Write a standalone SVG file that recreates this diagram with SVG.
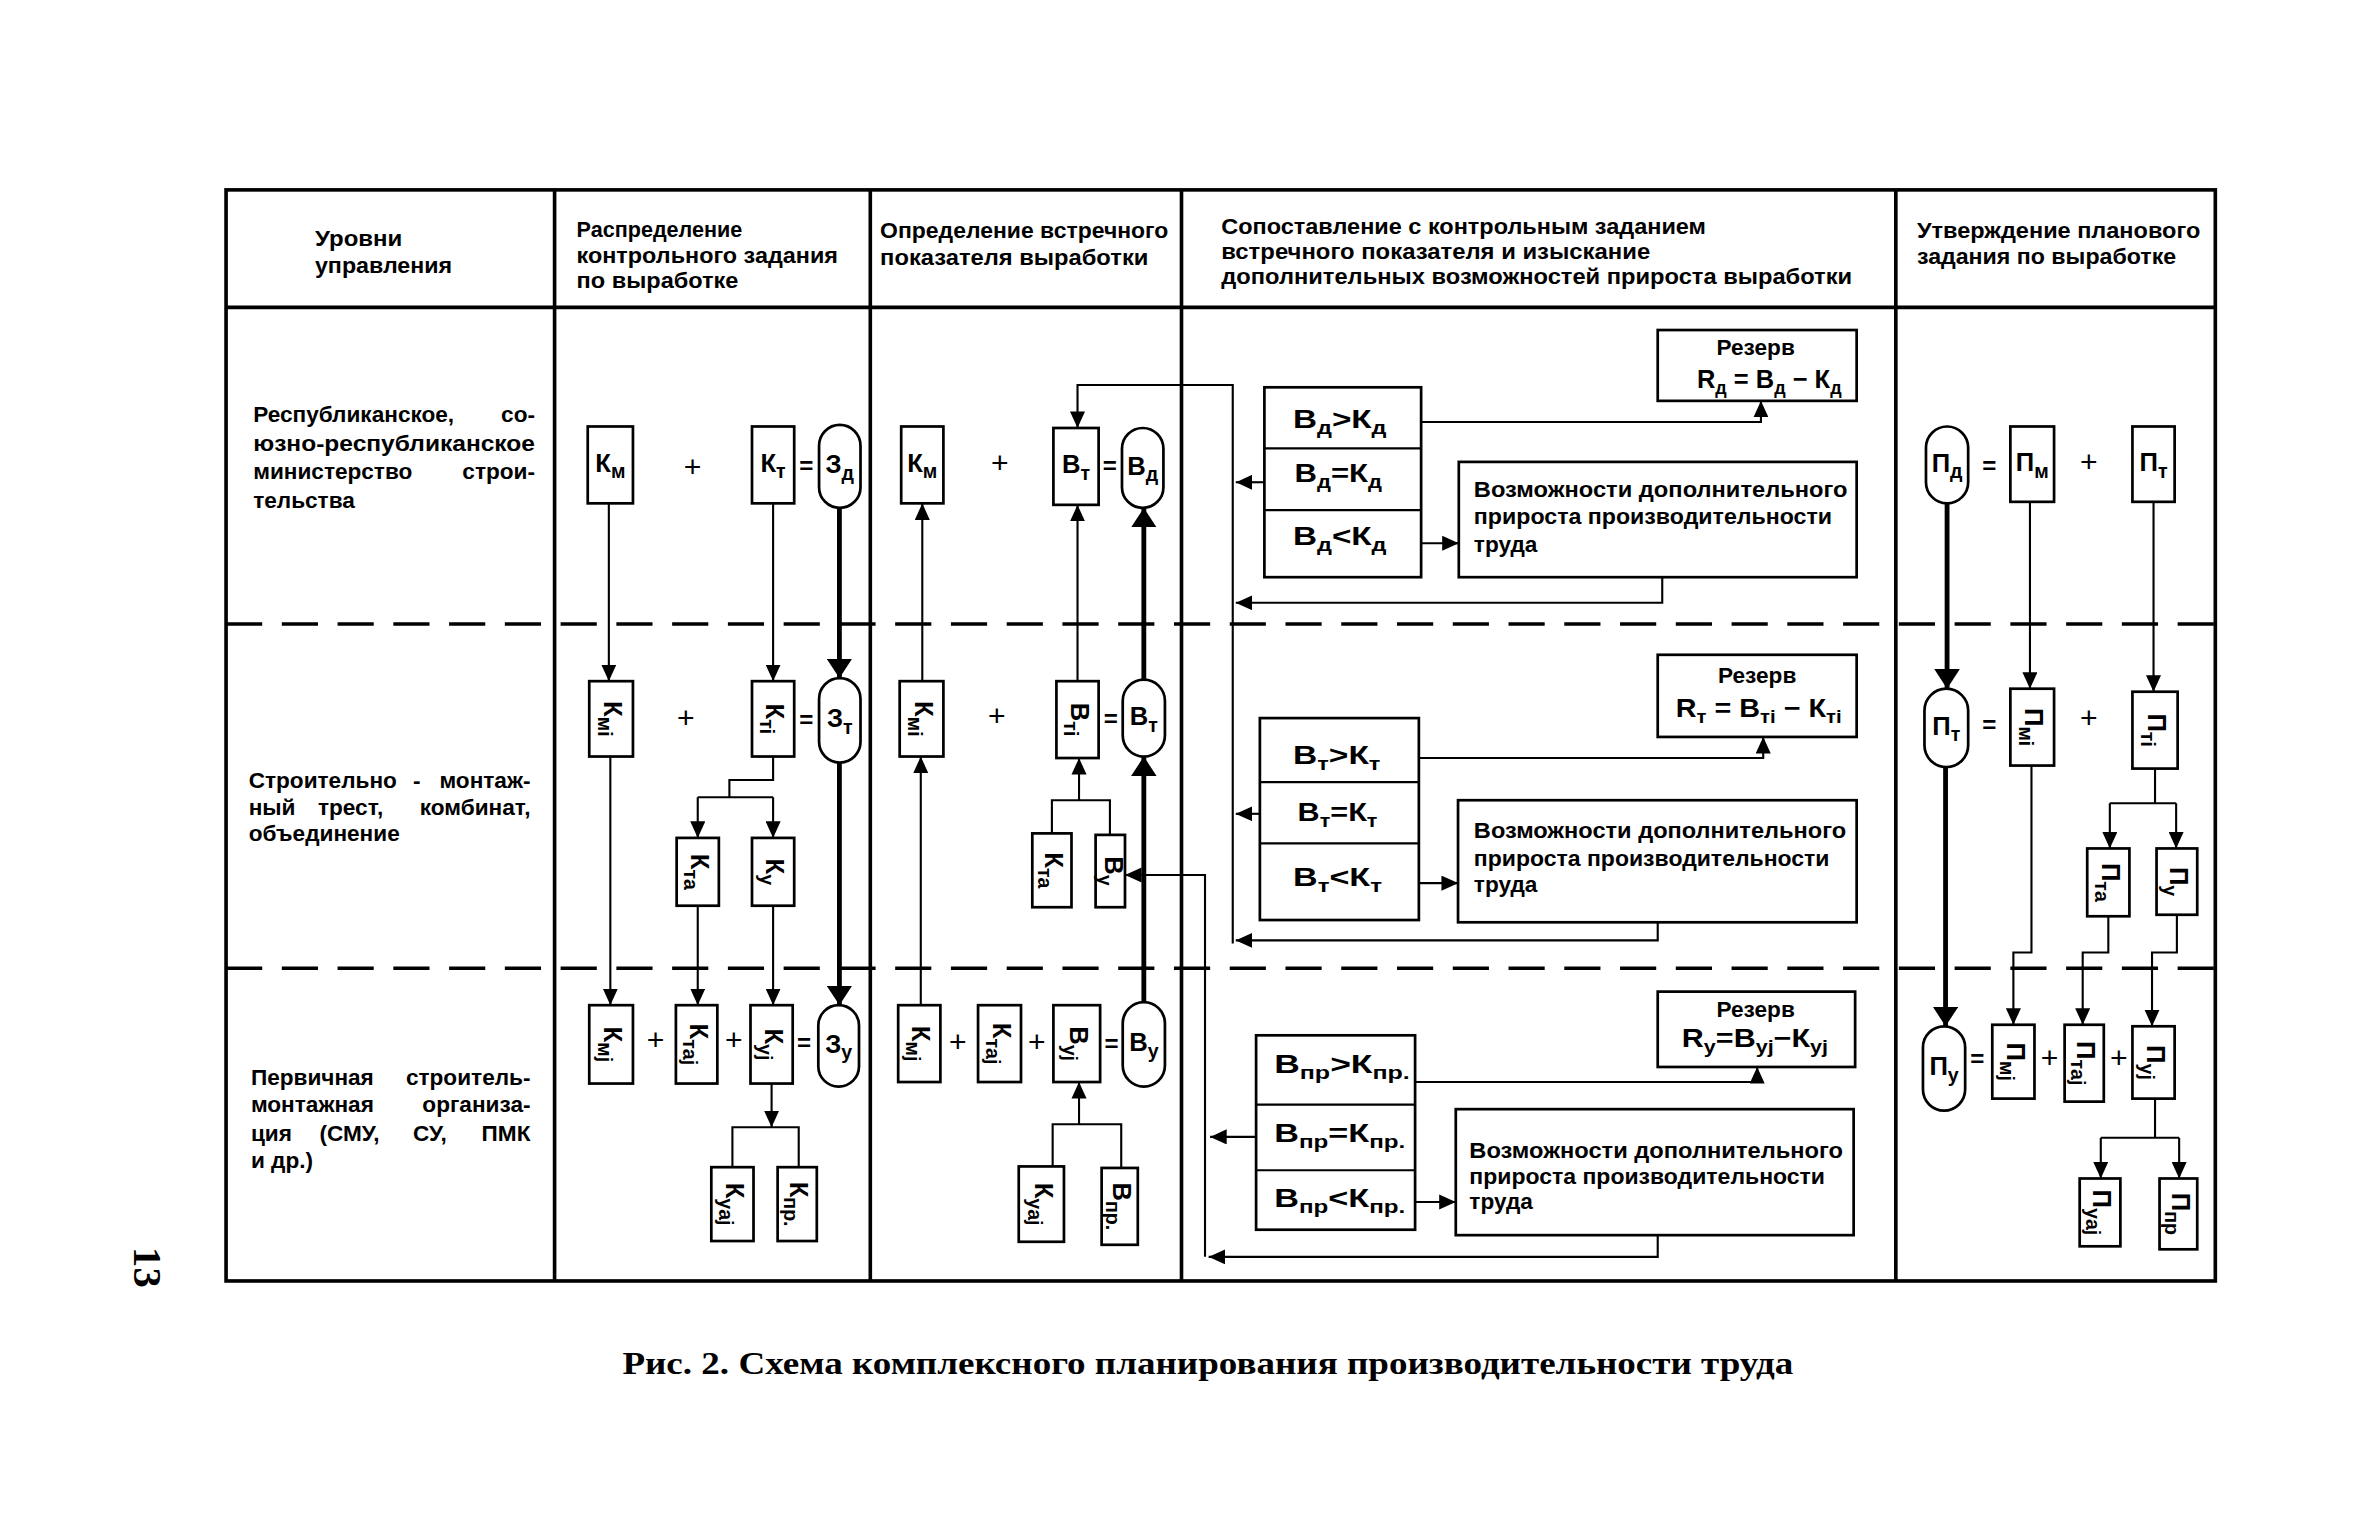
<svg xmlns="http://www.w3.org/2000/svg" width="2363" height="1535" viewBox="0 0 2363 1535">
<defs>
<style>
.fr{fill:none;stroke:#000;stroke-width:2.4}
.dl{fill:none;stroke:#000;stroke-width:2.3;stroke-dasharray:24 13}
.bx{fill:#fff;stroke:#000;stroke-width:1.8}
.ln{fill:none;stroke:#000;stroke-width:1.4}
.tk{fill:none;stroke:#000;stroke-width:3.2}
.ar{marker-end:url(#ah)}
.ak{marker-end:url(#ak)}
text{font-family:"Liberation Sans",Arial,sans-serif;font-weight:bold;fill:#000}
.t{font-size:15px}
.b{font-size:17px;text-anchor:middle}
.s{font-size:13px}
.c{font-size:17px}
.cs{font-size:12px}
.rz{font-size:15px;text-anchor:middle}
.op{font-size:20px;font-weight:normal;text-anchor:middle}
.eq{font-size:16px;text-anchor:middle}
.cap{font-family:"Liberation Serif","Times New Roman",serif;font-size:21px}
</style>
<marker id="ah" viewBox="0 0 10 10" refX="10" refY="5" markerWidth="11" markerHeight="10" markerUnits="userSpaceOnUse" orient="auto" preserveAspectRatio="none"><path d="M0,0L10,5L0,10z"/></marker>
<marker id="ak" viewBox="0 0 10 10" refX="10" refY="5" markerWidth="13" markerHeight="17" markerUnits="userSpaceOnUse" orient="auto" preserveAspectRatio="none"><path d="M0,0L10,5L0,10z"/></marker>
</defs>
<rect width="2363" height="1535" fill="#fff"/>
<g transform="scale(1.50702)">
<g id="frame">
<rect class="fr" x="150" y="126" width="1320" height="724"/>
<path class="fr" d="M150,204H1470M368,126V850M577.5,126V850M784,126V850M1258,126V850"/>
<path class="dl" d="M150,414H1470M150,642.5H1470"/>
</g>
<g id="headers">
<text class="t" x="209" y="163" textLength="58" lengthAdjust="spacingAndGlyphs">Уровни</text>
<text class="t" x="209" y="181" textLength="91" lengthAdjust="spacingAndGlyphs">управления</text>
<text class="t" x="382.6" y="157" textLength="110" lengthAdjust="spacingAndGlyphs">Распределение</text>
<text class="t" x="382.6" y="174.5" textLength="173.4" lengthAdjust="spacingAndGlyphs">контрольного задания</text>
<text class="t" x="382.6" y="191" textLength="107.4" lengthAdjust="spacingAndGlyphs">по выработке</text>
<text class="t" x="584" y="158" textLength="191.3" lengthAdjust="spacingAndGlyphs">Определение встречного</text>
<text class="t" x="584" y="176" textLength="178" lengthAdjust="spacingAndGlyphs">показателя выработки</text>
<text class="t" x="810.4" y="155.5" textLength="321.6" lengthAdjust="spacingAndGlyphs">Сопоставление с контрольным заданием</text>
<text class="t" x="810.4" y="172" textLength="284.6" lengthAdjust="spacingAndGlyphs">встречного показателя и изыскание</text>
<text class="t" x="810.4" y="188.5" textLength="418.6" lengthAdjust="spacingAndGlyphs">дополнительных возможностей прироста выработки</text>
<text class="t" x="1272" y="158" textLength="188" lengthAdjust="spacingAndGlyphs">Утверждение планового</text>
<text class="t" x="1272" y="175.5" textLength="172" lengthAdjust="spacingAndGlyphs">задания по выработке</text>
</g>
<g id="level-1">
<text class="t" x="168" y="280">Республиканское,</text>
<text class="t" x="355" y="280" text-anchor="end">со-</text>
<text class="t" x="168" y="299" textLength="187" lengthAdjust="spacingAndGlyphs">юзно-республиканское</text>
<text class="t" x="168" y="318">министерство</text>
<text class="t" x="355" y="318" text-anchor="end">строи-</text>
<text class="t" x="168" y="337">тельства</text>
</g>
<g id="level-2">
<text class="t" x="165" y="523">Строительно</text>
<text class="t" x="274" y="523">-</text>
<text class="t" x="352" y="523" text-anchor="end">монтаж-</text>
<text class="t" x="165" y="540.5">ный</text>
<text class="t" x="211" y="540.5">трест,</text>
<text class="t" x="352" y="540.5" text-anchor="end">комбинат,</text>
<text class="t" x="165" y="558">объединение</text>
</g>
<g id="level-3">
<text class="t" x="166.5" y="720">Первичная</text>
<text class="t" x="352" y="720" text-anchor="end">строитель-</text>
<text class="t" x="166.5" y="738">монтажная</text>
<text class="t" x="352" y="738" text-anchor="end">организа-</text>
<text class="t" x="166.5" y="757">ция</text>
<text class="t" x="212" y="757">(СМУ,</text>
<text class="t" x="274" y="757">СУ,</text>
<text class="t" x="352" y="757" text-anchor="end">ПМК</text>
<text class="t" x="166.5" y="775">и др.)</text>
</g>
<g id="connectors">
<path class="ln ar" d="M404,334V452"/>
<path class="ln ar" d="M513,334V452"/>
<path class="tk ak" d="M557,337V450"/>
<path class="ln ar" d="M405,502V667"/>
<path class="ln" d="M513,502V517.6H484V529M463,529H513"/>
<path class="ln ar" d="M463,529V556"/>
<path class="ln ar" d="M513,529V556"/>
<path class="ln ar" d="M463,601V667"/>
<path class="ln ar" d="M513,601V667"/>
<path class="tk ak" d="M557,506V667"/>
<path class="ln ar" d="M512,719V748"/>
<path class="ln" d="M486,774.5V748H530V774.5"/>
<path class="ln ar" d="M818,626V255.5H715V284"/>
<path class="ln ar" d="M612,452V334"/>
<path class="ln ar" d="M715,452V335"/>
<path class="tk ak" d="M759,451V337"/>
<path class="ln ar" d="M611,667V502"/>
<path class="ln" d="M698,553V531H736.5V554"/>
<path class="ln ar" d="M716,531V503"/>
<path class="tk ak" d="M759,665V502"/>
<path class="ln" d="M698.5,774V746H744V775"/>
<path class="ln ar" d="M716,746V718"/>
<path class="ln ar" d="M799.6,834V580.6H746.5"/>
<path class="ln ar" d="M943,280H1168.5V266"/>
<path class="ln ar" d="M943,360.5H968"/>
<path class="ln ar" d="M839,320H820"/>
<path class="ln ar" d="M1103,383V400H820"/>
<path class="ln ar" d="M941.5,503H1170V489"/>
<path class="ln ar" d="M941.5,586H967.5"/>
<path class="ln ar" d="M836,540H820"/>
<path class="ln ar" d="M1100,612V624H820"/>
<path class="ln ar" d="M939,718H1166V708"/>
<path class="ln ar" d="M939,797.6H966"/>
<path class="ln ar" d="M833.5,754.4H803"/>
<path class="ln ar" d="M1100,819.6V834H802"/>
<path class="tk ak" d="M1292,334V457"/>
<path class="ln ar" d="M1347,333V457"/>
<path class="ln ar" d="M1429,333V459"/>
<path class="tk ak" d="M1291,509V681"/>
<path class="ln ar" d="M1348,508V632H1336V680"/>
<path class="ln" d="M1430,510V533M1400,533H1444"/>
<path class="ln ar" d="M1400,533V563"/>
<path class="ln ar" d="M1444,533V563"/>
<path class="ln ar" d="M1399,608V632H1382V680"/>
<path class="ln ar" d="M1444.5,607V632H1428V681"/>
<path class="ln" d="M1430,729V755M1394,755H1446"/>
<path class="ln ar" d="M1394,755V782"/>
<path class="ln ar" d="M1446,755V782"/>
</g>
<g id="operators">
<text class="op" x="459.6" y="316.5">+</text><text class="eq" x="535" y="314.3">=</text>
<text class="op" x="455" y="483">+</text><text class="eq" x="535" y="483.3">=</text>
<text class="op" x="435" y="697">+</text><text class="op" x="487" y="697">+</text><text class="eq" x="533.5" y="697.3">=</text>
<text class="op" x="663.5" y="314">+</text><text class="eq" x="736.5" y="314.8">=</text>
<text class="op" x="661.5" y="481.5">+</text><text class="eq" x="737" y="482.3">=</text>
<text class="op" x="635.5" y="698">+</text><text class="op" x="688" y="698">+</text><text class="eq" x="737.5" y="698.3">=</text>
<text class="eq" x="1320" y="314.3">=</text><text class="op" x="1386" y="313">+</text>
<text class="eq" x="1320" y="486.3">=</text><text class="op" x="1386" y="483">+</text>
<text class="eq" x="1312" y="708.3">=</text><text class="op" x="1360" y="709">+</text><text class="op" x="1406" y="709">+</text>
</g>
<g id="k-m"><rect class="bx" x="390" y="283" width="30" height="51"/><text class="b" x="405" y="313">К<tspan class="s" dy="4.5">м</tspan></text></g>
<g id="k-t"><rect class="bx" x="499" y="283" width="28" height="51"/><text class="b" x="513" y="313">К<tspan class="s" dy="4.5">т</tspan></text></g>
<g id="z-d"><rect class="bx" x="543.5" y="282" width="27.5" height="55" rx="13.75"/><text class="b" x="557.25" y="314">З<tspan class="s" dy="4.5">д</tspan></text></g>
<g id="k-mi"><rect class="bx" x="391" y="452" width="29" height="50"/><text class="b" transform="translate(405.5,477) rotate(90)" y="4.5">К<tspan class="s" dy="4.5">мi</tspan></text></g>
<g id="k-ti"><rect class="bx" x="499" y="452" width="28" height="50"/><text class="b" transform="translate(513,477) rotate(90)" y="4.5">К<tspan class="s" dy="4.5">тi</tspan></text></g>
<g id="z-t"><rect class="bx" x="543.5" y="450" width="27.5" height="56" rx="13.75"/><text class="b" x="557.25" y="482.5">З<tspan class="s" dy="4.5">т</tspan></text></g>
<g id="k-ta"><rect class="bx" x="449" y="556" width="28" height="45"/><text class="b" transform="translate(463,578.5) rotate(90)" y="4.5">К<tspan class="s" dy="4.5">та</tspan></text></g>
<g id="k-u"><rect class="bx" x="499" y="556" width="28" height="45"/><text class="b" transform="translate(513,578.5) rotate(90)" y="4.5">К<tspan class="s" dy="4.5">у</tspan></text></g>
<g id="k-mj"><rect class="bx" x="391" y="667" width="29" height="52"/><text class="b" transform="translate(405.5,693) rotate(90)" y="4.5">К<tspan class="s" dy="4.5">мj</tspan></text></g>
<g id="k-taj"><rect class="bx" x="448.5" y="667" width="27.5" height="52"/><text class="b" transform="translate(462.25,693) rotate(90)" y="4.5">К<tspan class="s" dy="4.5">таj</tspan></text></g>
<g id="k-uj"><rect class="bx" x="498" y="667" width="28" height="52"/><text class="b" transform="translate(512,693) rotate(90)" y="4.5">К<tspan class="s" dy="4.5">уj</tspan></text></g>
<g id="z-u"><rect class="bx" x="543" y="667" width="27" height="54" rx="13.5"/><text class="b" x="556.5" y="698.5">З<tspan class="s" dy="4.5">у</tspan></text></g>
<g id="k-uaj"><rect class="bx" x="472" y="774.5" width="28" height="49"/><text class="b" transform="translate(486,799) rotate(90)" y="4.5">К<tspan class="s" dy="4.5">уaj</tspan></text></g>
<g id="k-pr"><rect class="bx" x="516" y="774.5" width="26" height="49"/><text class="b" transform="translate(529,799) rotate(90)" y="4.5">К<tspan class="s" dy="4.5">пр.</tspan></text></g>
<g id="b-km"><rect class="bx" x="598" y="283" width="28" height="51"/><text class="b" x="612" y="313">К<tspan class="s" dy="4.5">м</tspan></text></g>
<g id="b-t"><rect class="bx" x="699" y="284" width="30" height="51"/><text class="b" x="714" y="314">В<tspan class="s" dy="4.5">т</tspan></text></g>
<g id="b-d"><rect class="bx" x="744.5" y="284" width="27.5" height="53" rx="13.75"/><text class="b" x="758.25" y="315">В<tspan class="s" dy="4.5">д</tspan></text></g>
<g id="b-kmi"><rect class="bx" x="597" y="452" width="29" height="50"/><text class="b" transform="translate(611.5,477) rotate(90)" y="4.5">К<tspan class="s" dy="4.5">мi</tspan></text></g>
<g id="b-ti"><rect class="bx" x="701" y="452" width="28" height="51"/><text class="b" transform="translate(715,477.5) rotate(90)" y="4.5">В<tspan class="s" dy="4.5">тi</tspan></text></g>
<g id="b-tc"><rect class="bx" x="745" y="451" width="28" height="51" rx="14"/><text class="b" x="759" y="481">В<tspan class="s" dy="4.5">т</tspan></text></g>
<g id="b-kta"><rect class="bx" x="685" y="553" width="26" height="49"/><text class="b" transform="translate(698,577.5) rotate(90)" y="4.5">К<tspan class="s" dy="4.5">та</tspan></text></g>
<g id="b-u"><rect class="bx" x="727" y="554" width="19.5" height="48"/><text class="b" transform="translate(737.5,578) rotate(90)" y="4.5">В<tspan class="s" dy="4.5">у</tspan></text></g>
<g id="b-kmj"><rect class="bx" x="596" y="667" width="28" height="51"/><text class="b" transform="translate(610,692.5) rotate(90)" y="4.5">К<tspan class="s" dy="4.5">мj</tspan></text></g>
<g id="b-ktaj"><rect class="bx" x="649" y="667" width="28.5" height="51"/><text class="b" transform="translate(663.25,692.5) rotate(90)" y="4.5">К<tspan class="s" dy="4.5">таj</tspan></text></g>
<g id="b-uj"><rect class="bx" x="699" y="667" width="31" height="51"/><text class="b" transform="translate(714.5,692.5) rotate(90)" y="4.5">В<tspan class="s" dy="4.5">уj</tspan></text></g>
<g id="b-uc"><rect class="bx" x="745" y="665" width="28" height="56" rx="14"/><text class="b" x="759" y="697.5">В<tspan class="s" dy="4.5">у</tspan></text></g>
<g id="b-kuaj"><rect class="bx" x="676" y="774" width="30" height="50"/><text class="b" transform="translate(691,799) rotate(90)" y="4.5">К<tspan class="s" dy="4.5">уaj</tspan></text></g>
<g id="b-pr"><rect class="bx" x="731" y="775" width="24" height="51"/><text class="b" transform="translate(743,800.5) rotate(90)" y="4.5">В<tspan class="s" dy="4.5">пр.</tspan></text></g>
<g id="cmp-1">
<rect class="bx" x="839" y="257" width="104" height="126"/><path class="ln" d="M839,297.5H943M839,338.5H943"/>
<text class="c" x="858" y="284" textLength="62" lengthAdjust="spacingAndGlyphs">В<tspan class="cs" dy="4">д</tspan><tspan dy="-4">&gt;К</tspan><tspan class="cs" dy="4">д</tspan></text>
<text class="c" x="859" y="320" textLength="58" lengthAdjust="spacingAndGlyphs">В<tspan class="cs" dy="4">д</tspan><tspan dy="-4">=К</tspan><tspan class="cs" dy="4">д</tspan></text>
<text class="c" x="858" y="361.5" textLength="62" lengthAdjust="spacingAndGlyphs">В<tspan class="cs" dy="4">д</tspan><tspan dy="-4">&lt;К</tspan><tspan class="cs" dy="4">д</tspan></text>
</g>
<g id="res-1"><rect class="bx" x="1100" y="219" width="132" height="47"/>
<text class="rz" x="1165" y="235.5">Резерв</text>
<text class="c" x="1126" y="257.5" textLength="96" lengthAdjust="spacingAndGlyphs">R<tspan class="cs" dy="4">д</tspan><tspan dy="-4"> = В</tspan><tspan class="cs" dy="4">д</tspan><tspan dy="-4"> − К</tspan><tspan class="cs" dy="4">д</tspan></text></g>
<g id="pos-1"><rect class="bx" x="968" y="306.5" width="264" height="76.5"/>
<text class="t" x="978" y="329.5" textLength="248" lengthAdjust="spacingAndGlyphs">Возможности дополнительного</text>
<text class="t" x="978" y="348" textLength="237.7" lengthAdjust="spacingAndGlyphs">прироста производительности</text>
<text class="t" x="978" y="366">труда</text></g>
<g id="cmp-2">
<rect class="bx" x="836" y="476.5" width="105.5" height="134"/><path class="ln" d="M836,519H941.5M836,559.6H941.5"/>
<text class="c" x="858" y="507" textLength="58" lengthAdjust="spacingAndGlyphs">В<tspan class="cs" dy="4">т</tspan><tspan dy="-4">&gt;К</tspan><tspan class="cs" dy="4">т</tspan></text>
<text class="c" x="861" y="545" textLength="53" lengthAdjust="spacingAndGlyphs">В<tspan class="cs" dy="4">т</tspan><tspan dy="-4">=К</tspan><tspan class="cs" dy="4">т</tspan></text>
<text class="c" x="858" y="588" textLength="59" lengthAdjust="spacingAndGlyphs">В<tspan class="cs" dy="4">т</tspan><tspan dy="-4">&lt;К</tspan><tspan class="cs" dy="4">т</tspan></text>
</g>
<g id="res-2"><rect class="bx" x="1100" y="434.5" width="132" height="54.5"/>
<text class="rz" x="1166" y="453.5">Резерв</text>
<text class="c" x="1112" y="475.5" textLength="110" lengthAdjust="spacingAndGlyphs">R<tspan class="cs" dy="4">т</tspan><tspan dy="-4"> = В</tspan><tspan class="cs" dy="4">тi</tspan><tspan dy="-4"> − К</tspan><tspan class="cs" dy="4">тi</tspan></text></g>
<g id="pos-2"><rect class="bx" x="967.5" y="531" width="264.5" height="81"/>
<text class="t" x="978" y="556" textLength="247" lengthAdjust="spacingAndGlyphs">Возможности дополнительного</text>
<text class="t" x="978" y="574.5" textLength="236" lengthAdjust="spacingAndGlyphs">прироста производительности</text>
<text class="t" x="978" y="592">труда</text></g>
<g id="cmp-3">
<rect class="bx" x="833.5" y="687" width="105.5" height="129"/><path class="ln" d="M833.5,733H939M833.5,776.5H939"/>
<text class="c" x="845.5" y="712" textLength="90" lengthAdjust="spacingAndGlyphs">В<tspan class="cs" dy="4">пр</tspan><tspan dy="-4">&gt;К</tspan><tspan class="cs" dy="4">пр.</tspan></text>
<text class="c" x="845.5" y="757.6" textLength="87" lengthAdjust="spacingAndGlyphs">В<tspan class="cs" dy="4">пр</tspan><tspan dy="-4">=К</tspan><tspan class="cs" dy="4">пр.</tspan></text>
<text class="c" x="845.5" y="800.7" textLength="87" lengthAdjust="spacingAndGlyphs">В<tspan class="cs" dy="4">пр</tspan><tspan dy="-4">&lt;К</tspan><tspan class="cs" dy="4">пр.</tspan></text>
</g>
<g id="res-3"><rect class="bx" x="1100" y="658" width="131" height="50"/>
<text class="rz" x="1165" y="675">Резерв</text>
<text class="c" x="1116" y="695" textLength="97" lengthAdjust="spacingAndGlyphs">R<tspan class="cs" dy="4">у</tspan><tspan dy="-4">=В</tspan><tspan class="cs" dy="4">уj</tspan><tspan dy="-4">−К</tspan><tspan class="cs" dy="4">уj</tspan></text></g>
<g id="pos-3"><rect class="bx" x="966" y="736" width="264" height="83.6"/>
<text class="t" x="975" y="768.5" textLength="248" lengthAdjust="spacingAndGlyphs">Возможности дополнительного</text>
<text class="t" x="975" y="785.5" textLength="236" lengthAdjust="spacingAndGlyphs">прироста производительности</text>
<text class="t" x="975" y="802">труда</text></g>
<g id="p-d"><rect class="bx" x="1278" y="283" width="28" height="51" rx="14"/><text class="b" x="1292" y="313">П<tspan class="s" dy="4.5">д</tspan></text></g>
<g id="p-m"><rect class="bx" x="1334" y="283" width="29" height="50"/><text class="b" x="1348.5" y="312.5">П<tspan class="s" dy="4.5">м</tspan></text></g>
<g id="p-t"><rect class="bx" x="1415" y="283" width="28" height="50"/><text class="b" x="1429" y="312.5">П<tspan class="s" dy="4.5">т</tspan></text></g>
<g id="p-tc"><rect class="bx" x="1277" y="457" width="29" height="52" rx="14.5"/><text class="b" x="1291.5" y="487.5">П<tspan class="s" dy="4.5">т</tspan></text></g>
<g id="p-mi"><rect class="bx" x="1334" y="457" width="29" height="51"/><text class="b" transform="translate(1348.5,482.5) rotate(90)" y="4.5">П<tspan class="s" dy="4.5">мi</tspan></text></g>
<g id="p-ti"><rect class="bx" x="1415" y="459" width="30" height="51"/><text class="b" transform="translate(1430,484.5) rotate(90)" y="4.5">П<tspan class="s" dy="4.5">тi</tspan></text></g>
<g id="p-ta"><rect class="bx" x="1385" y="563" width="28" height="45"/><text class="b" transform="translate(1399,585.5) rotate(90)" y="4.5">П<tspan class="s" dy="4.5">та</tspan></text></g>
<g id="p-u"><rect class="bx" x="1431" y="563" width="27" height="44"/><text class="b" transform="translate(1444.5,585) rotate(90)" y="4.5">П<tspan class="s" dy="4.5">у</tspan></text></g>
<g id="p-uc"><rect class="bx" x="1276" y="681" width="28" height="56" rx="14"/><text class="b" x="1290" y="713.5">П<tspan class="s" dy="4.5">у</tspan></text></g>
<g id="p-mj"><rect class="bx" x="1322" y="680" width="28" height="49"/><text class="b" transform="translate(1336,704.5) rotate(90)" y="4.5">П<tspan class="s" dy="4.5">мj</tspan></text></g>
<g id="p-taj"><rect class="bx" x="1370" y="680" width="26" height="51"/><text class="b" transform="translate(1383,705.5) rotate(90)" y="4.5">П<tspan class="s" dy="4.5">таj</tspan></text></g>
<g id="p-uj"><rect class="bx" x="1415" y="681" width="28" height="48"/><text class="b" transform="translate(1429,705) rotate(90)" y="4.5">П<tspan class="s" dy="4.5">уj</tspan></text></g>
<g id="p-uaj"><rect class="bx" x="1380" y="782" width="27" height="45"/><text class="b" transform="translate(1393.5,804.5) rotate(90)" y="4.5">П<tspan class="s" dy="4.5">уaj</tspan></text></g>
<g id="p-pr"><rect class="bx" x="1433" y="782" width="25" height="47"/><text class="b" transform="translate(1445.5,805.5) rotate(90)" y="4.5">П<tspan class="s" dy="4.5">пр</tspan></text></g>
<g id="page-number"><text class="cap" style="font-size:27px" text-anchor="middle" transform="translate(98,841) rotate(90)" y="9">13</text></g>
<g id="caption"><text class="cap" x="413" y="912" textLength="777" lengthAdjust="spacingAndGlyphs">Рис. 2. Схема комплексного планирования производительности труда</text></g>
</g>
</svg>
